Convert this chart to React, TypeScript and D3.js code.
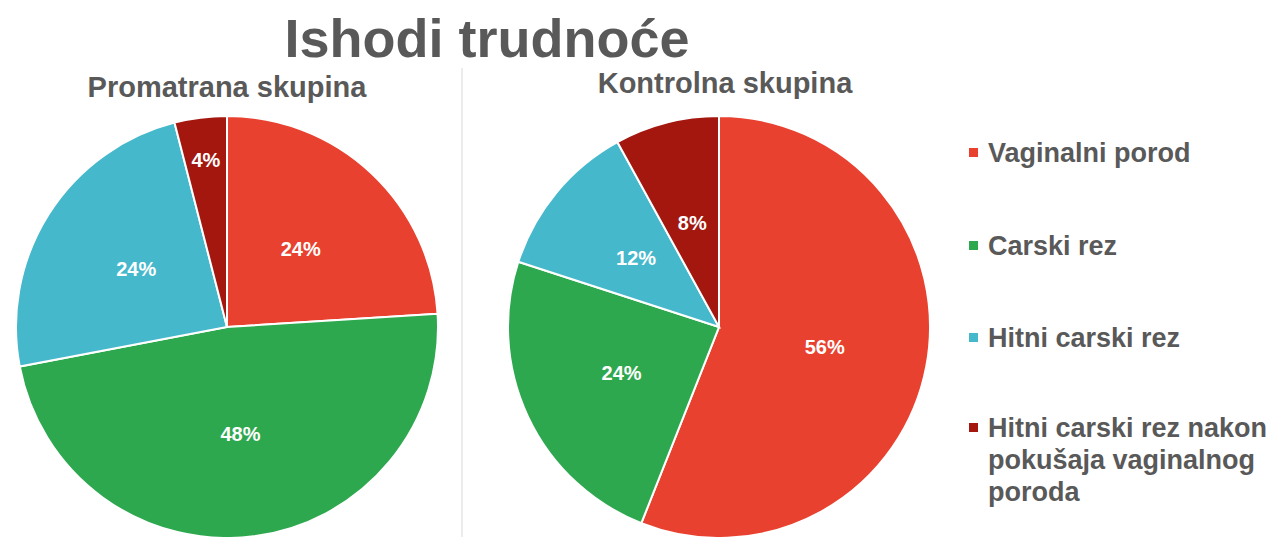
import * as d3 from 'd3';

const categories = ['Vaginalni porod', 'Carski rez', 'Hitni carski rez', 'Hitni carski rez nakon pokušaja vaginalnog poroda'];
const legendLines = [['Vaginalni porod'], ['Carski rez'], ['Hitni carski rez'], ['Hitni carski rez nakon', 'pokušaja vaginalnog', 'poroda']];
const colors = ['#E8412F', '#2EA84F', '#45B8CC', '#A3170F'];
const promatrana = [24, 48, 24, 4];
const kontrolna = [56, 24, 12, 8];
const groups = ['Promatrana skupina', 'Kontrolna skupina'];

const width = 1266;
const height = 537;
const radius = 211;
const font = '"Liberation Sans", Arial, sans-serif';
const textColor = '#595959';

function Pie({ values, cx, cy }: { values: number[]; cx: number; cy: number }) {
  const pie = d3.pie<number>().sort(null).value(d => d);
  const arcs = pie(values);
  const arc = d3.arc<d3.PieArcDatum<number>>().innerRadius(0).outerRadius(radius);
  const total = d3.sum(values);
  return (
    <g transform={`translate(${cx},${cy})`}>
      {arcs.map((a, i) => (
        <path key={i} d={arc(a) || ''} fill={colors[i]} stroke="#fff" strokeWidth={2} />
      ))}
      {arcs.map((a, i) => {
        // tiny slices get their label pushed out toward the rim
        const small = a.value / total < 0.05;
        const r = radius * (small ? 0.8 : 0.51);
        const c = d3.arc<d3.PieArcDatum<number>>().innerRadius(r).outerRadius(r).centroid(a);
        return (
          <text key={i} x={c[0]} y={c[1]} dy="0.35em" textAnchor="middle" fill="#fff"
            fontFamily={font} fontWeight="bold" fontSize={20}>
            {a.value}%
          </text>
        );
      })}
    </g>
  );
}

export default function App() {
  return (
    <svg width={width} height={height} style={{ position: 'absolute', left: 0, top: 0, background: '#fff' }}>
      <text x={487} y={57} textAnchor="middle" fontFamily={font} fontWeight="bold" fontSize={54} fill={textColor}>
        Ishodi trudnoće
      </text>
      <text x={227} y={97} textAnchor="middle" fontFamily={font} fontWeight="bold" fontSize={29} fill={textColor}>
        {groups[0]}
      </text>
      <text x={725} y={93} textAnchor="middle" fontFamily={font} fontWeight="bold" fontSize={29} fill={textColor}>
        {groups[1]}
      </text>
      <line x1={462} x2={462} y1={68} y2={height} stroke="#D9D9D9" strokeWidth={1} />
      <Pie values={promatrana} cx={227} cy={327} />
      <Pie values={kontrolna} cx={719} cy={327} />
      <g>
        {categories.map((c, i) => {
          const y = [153, 246, 338, 428][i];
          return (
            <g key={c}>
              <rect x={969} y={y - 5} width={9} height={9} fill={colors[i]} />
              {legendLines[i].map((l, j) => (
                <text key={j} x={988} y={y + j * 32} dy="0.35em" fontFamily={font} fontWeight="bold" fontSize={27} fill={textColor}>
                  {l}
                </text>
              ))}
            </g>
          );
        })}
      </g>
    </svg>
  );
}
